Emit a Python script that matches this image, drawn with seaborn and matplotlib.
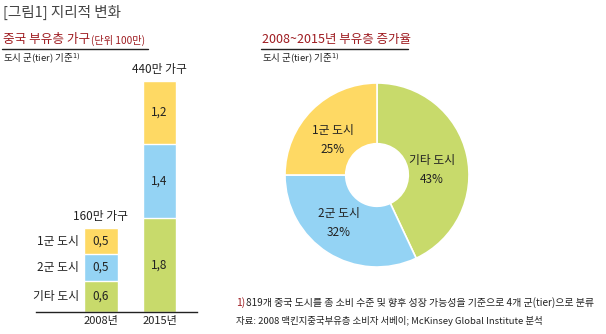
import matplotlib
matplotlib.use("Agg")
import matplotlib.pyplot as plt
import seaborn as sns
import pandas as pd
import numpy as np

# ---- data ----
years = ["2008년", "2015년"]
tiers = ["기타 도시", "2군 도시", "1군 도시"]        # bottom -> top
tier_values = {
    "기타 도시": [0.6, 1.8],
    "2군 도시": [0.5, 1.4],
    "1군 도시": [0.5, 1.2],
}
total_labels = ["160만 가구", "440만 가구"]
pie_labels = ["기타 도시", "2군 도시", "1군 도시"]
pie_values = [43, 32, 25]

colors = {"기타 도시": "#C8DA6B", "2군 도시": "#94D3F4", "1군 도시": "#FED964"}
RED = "#9E1B20"
GRAY = "#444444"

sns.set_theme(style="white")
plt.rcParams["font.family"] = ["Noto Sans CJK KR", "DejaVu Sans"]

W, H = 606, 334
fig = plt.figure(figsize=(W / 100, H / 100), dpi=100)

def px_axes(x0, y0, x1, y1):
    return fig.add_axes([x0 / W, 1 - y1 / H, (x1 - x0) / W, (y1 - y0) / H])

# ---- stacked bar chart ----
ax = px_axes(36, 70, 197, 312)
cum = np.zeros(len(years))
layers = []
for t in tiers:
    vals = np.array(tier_values[t])
    layers.append((t, cum.copy(), vals))
    cum = cum + vals
for t, base, vals in reversed(layers):
    df = pd.DataFrame({"year": years, "top": base + vals})
    sns.barplot(data=df, x="year", y="top", ax=ax, color=colors[t],
                width=0.58, edgecolor="white", linewidth=1.0, saturation=1)
for t, base, vals in layers:
    for i, v in enumerate(vals):
        ax.text(i, base[i] + v / 2, f"{v:.1f}".replace(".", ","),
                ha="center", va="center", fontsize=8.5, color="#222222")
totals = cum
for i, lab in enumerate(total_labels):
    ax.text(i, totals[i] + 0.1, lab, ha="center", va="bottom", fontsize=8.5, color="#222222")
for t, base, vals in layers:
    ax.text(-0.38, base[0] + vals[0] / 2, t, ha="right", va="center", fontsize=8.5, color="#222222")

ax.set_xlim(-1.111, 1.641)
ax.set_ylim(0, 242 / 52.5)
for s in ["top", "right", "left"]:
    ax.spines[s].set_visible(False)
ax.spines["bottom"].set_color("#222222")
ax.spines["bottom"].set_linewidth(1.0)
ax.set_yticks([])
ax.set_xlabel("")
ax.set_ylabel("")
ax.tick_params(axis="x", length=0, labelsize=8, pad=3, colors="#222222")

# ---- donut ----
cx, cy, r = 377, 175, 92
ax2 = px_axes(cx - 100, cy - 100, cx + 100, cy + 100)
wedges, _ = ax2.pie(pie_values, colors=[colors[p] for p in pie_labels],
                    startangle=90, counterclock=False, radius=1,
                    wedgeprops=dict(width=0.66, edgecolor="white", linewidth=1.2))
lim = 100 / r
ax2.set_xlim(-lim, lim)
ax2.set_ylim(-lim, lim)
ax2.set_aspect("equal")
ax2.axis("off")
label_pos = {"1군 도시": (333, 140), "기타 도시": (432, 170), "2군 도시": (339, 223)}
for p, v in zip(pie_labels, pie_values):
    x, y = label_pos[p]
    fig.text(x / W, 1 - y / H, f"{p}\n{v}%", ha="center", va="center",
             fontsize=8.5, color="#222222", linespacing=1.6)

# ---- titles ----
fig.text(3 / W, 1 - 12 / H, "[그림1] 지리적 변화", ha="left", va="center", fontsize=10.5, color=GRAY)
t1 = fig.text(3 / W, 1 - 40 / H, "중국 부유층 가구", ha="left", va="center", fontsize=9.1, color=RED)
fig.canvas.draw()
bb = t1.get_window_extent()
fig.text((bb.x1 + 1) / W, 1 - 40 / H, "(단위 100만)", ha="left", va="center", fontsize=7.3, color=RED)
fig.add_artist(plt.Line2D([2 / W, 148 / W], [1 - 49 / H, 1 - 49 / H], color="#222222", lw=1.0))
fig.text(3 / W, 1 - 59 / H, "도시 군(tier) 기준$^{1)}$", ha="left", va="center", fontsize=6.8, color="#222222")

fig.text(262 / W, 1 - 40 / H, "2008~2015년 부유층 증가율", ha="left", va="center", fontsize=9.0, color=RED)
fig.add_artist(plt.Line2D([261 / W, 408 / W], [1 - 49 / H, 1 - 49 / H], color="#222222", lw=1.0))
fig.text(262 / W, 1 - 59 / H, "도시 군(tier) 기준$^{1)}$", ha="left", va="center", fontsize=6.8, color="#222222")

# ---- footnotes ----
fig.text(236 / W, 1 - 303 / H, "1)", ha="left", va="center", fontsize=7.5, color=RED)
fig.text(246 / W, 1 - 303 / H, "819개 중국 도시를 총 소비 수준 및 향후 성장 가능성을 기준으로 4개 군(tier)으로 분류",
         ha="left", va="center", fontsize=7.2, color="#222222")
fig.text(236 / W, 1 - 321 / H, "자료: 2008 맥킨지중국부유층 소비자 서베이; McKinsey Global Institute 분석",
         ha="left", va="center", fontsize=6.8, color="#222222")

fig.savefig("out.png", dpi=100)
